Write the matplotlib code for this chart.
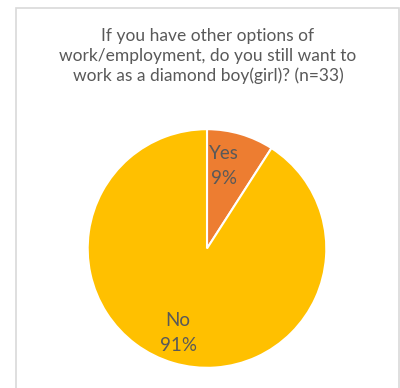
import numpy as np
import matplotlib.pyplot as plt
from matplotlib.patches import Rectangle

# survey answers (n=33)
labels = ["Yes", "No"]
counts = [3, 30]
colors = ["#ED7D31", "#FFC000"]
title = ("If you have other options of\n"
         "work/employment, do you still want to\n"
         "work as a diamond boy(girl)? (n=33)")

plt.rcParams['font.family'] = ['Lato', 'DejaVu Sans']
text_color = "#595959"

fig = plt.figure(figsize=(4, 3.88), dpi=100)

# light chart border (Excel style)
fig.patches.append(Rectangle((16 / 400, -0.05), 383 / 400, 1.05 - 8 / 388,
                             transform=fig.transFigure, fill=False,
                             edgecolor="#D9D9D9", linewidth=1.2))

fig.text(208 / 400, 1 - 56 / 388, title, ha="center", va="center",
         fontsize=12.5, color=text_color, linespacing=1.3)

ax = fig.add_axes([86.5 / 400, 19 / 388, 241 / 400, 241 / 388])
total = sum(counts)

wedges, texts = ax.pie(counts, colors=colors, startangle=90, counterclock=False,
                       wedgeprops=dict(edgecolor="white", linewidth=1.5))
# label offsets to mimic Excel's placement
dx = {"Yes": -0.06, "No": -0.04}
dy = {"Yes": 0.0, "No": -0.02}
for w, lab, c in zip(wedges, labels, counts):
    ang = np.deg2rad((w.theta1 + w.theta2) / 2)
    ax.text(0.72 * np.cos(ang) + dx[lab], 0.72 * np.sin(ang) + dy[lab],
            f"{lab}\n{c / total * 100:.0f}%",
            ha="center", va="center", fontsize=13.5, color=text_color,
            linespacing=1.55)
ax.set_xlim(-1.01, 1.01)
ax.set_ylim(-1.01, 1.01)
ax.set_aspect("equal")

fig.savefig("out.png", dpi=100)
